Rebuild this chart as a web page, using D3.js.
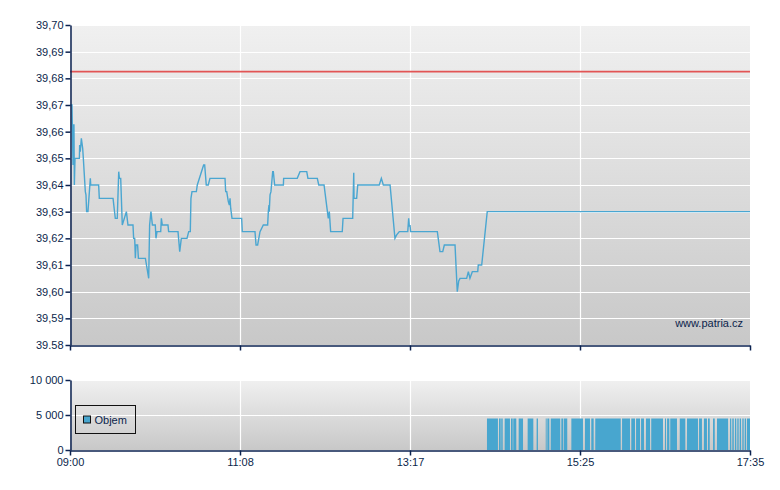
<!DOCTYPE html>
<html>
<head>
<meta charset="utf-8">
<script src="https://cdn.jsdelivr.net/npm/d3@7"></script>
<style>
  body { margin: 0; background: #fff; }
  text { font-family: "Liberation Sans", Arial, sans-serif; font-size: 11px; fill: #0b1f4b; }
</style>
</head>
<body>
<svg id="chart"></svg>
<script>
// price ticks, minutes after 09:00
let priceTimes = [0.3, 1.5, 2.3, 2.5, 3.0, 3.3, 3.8, 7.1, 7.3, 7.8, 8.6, 9.6, 10.1, 11.6, 12.1, 12.6, 13.6,
    15.4, 15.7, 21.7, 22.2, 32.6, 34.3, 35.8, 36.9, 37.4, 38.4, 39.6, 42.7, 43.9, 47.7, 48.2, 49.0, 49.5,
    50.0, 51.2, 51.8, 57.1, 59.6, 60.3, 61.3, 62.4, 64.6, 65.1, 65.9, 68.7, 69.2, 69.9, 74.2, 74.7, 81.8,
    83.1, 84.3, 88.6, 89.9, 91.1, 91.6, 92.4, 95.7, 96.4, 101.2, 102.0, 103.2, 104.7, 106.0, 117.4, 117.9,
    118.7, 119.9, 120.7, 121.2, 121.7, 122.7, 130.0, 130.5, 140.1, 140.9, 142.1, 143.9, 145.2, 146.4, 149.7,
    150.2, 150.7, 150.9, 151.5, 152.2, 153.5, 154.0, 155.0, 161.6, 161.8, 172.1, 174.2, 179.3, 180.2, 187.3,
    188.4, 192.4, 195.6, 196.4, 197.4, 206.2, 206.8, 214.1, 214.9, 215.1, 217.1, 217.9, 234.2, 235.8, 237.3,
    242.4, 246.1, 247.4, 249.4, 255.8, 256.5, 257.0, 257.5, 258.0, 278.2, 280.2, 282.3, 283.5, 291.6, 293.3,
    294.4, 295.4, 300.4, 301.7, 302.9, 304.7, 308.8, 309.2, 311.8, 316.0, 515];

let priceValues = [39.670, 39.670, 39.6475, 39.6625, 39.6625, 39.640, 39.650, 39.650, 39.655, 39.6525, 39.6575,
    39.6538, 39.650, 39.6375, 39.6363, 39.630, 39.630, 39.6425, 39.640, 39.640, 39.635, 39.635, 39.6275,
    39.6275, 39.645, 39.6425, 39.6425, 39.625, 39.630, 39.625, 39.625, 39.620, 39.620, 39.6125, 39.6175,
    39.6175, 39.6125, 39.6125, 39.605, 39.625, 39.630, 39.625, 39.625, 39.620, 39.6225, 39.6225, 39.6275,
    39.625, 39.625, 39.6225, 39.6225, 39.615, 39.620, 39.620, 39.6225, 39.6225, 39.635, 39.6375, 39.6375,
    39.640, 39.6475, 39.6475, 39.640, 39.640, 39.6425, 39.6425, 39.6375, 39.6375, 39.6338, 39.6325, 39.635,
    39.6313, 39.6275, 39.6275, 39.6225, 39.6225, 39.6175, 39.6175, 39.6225, 39.6238, 39.625, 39.625, 39.630,
    39.6325, 39.630, 39.6363, 39.6375, 39.645, 39.645, 39.640, 39.640, 39.6425, 39.6425, 39.645, 39.645,
    39.6425, 39.6425, 39.640, 39.640, 39.6275, 39.630, 39.6225, 39.6225, 39.6275, 39.6275, 39.6446, 39.635,
    39.635, 39.640, 39.640, 39.6425, 39.640, 39.640, 39.620, 39.6213, 39.6225, 39.6225, 39.6275, 39.6244,
    39.625, 39.6225, 39.6225, 39.615, 39.615, 39.6175, 39.6175, 39.600, 39.604, 39.605, 39.605, 39.6075,
    39.605, 39.6075, 39.6075, 39.610, 39.610, 39.630, 39.630];

let prevClose = 39.6825;

let priceTicks = [39.70, 39.69, 39.68, 39.67, 39.66, 39.65, 39.64, 39.63, 39.62, 39.61, 39.60, 39.59, 39.58];
let priceTickLabels = ["39,70", "39,69", "39,68", "39,67", "39,66", "39,65", "39,64", "39,63", "39,62",
    "39,61", "39,60", "39,59", "39.58"];

let timeTicks = [0, 128.75, 257.5, 386.25, 515];
let timeTickLabels = ["09:00", "11:08", "13:17", "15:25", "17:35"];

// volume blocks (minutes after 09:00)
let volStart = [315.8, 324.9, 326.6, 329.2, 334.0, 335.7, 339.8, 346.6, 353.4, 360.3, 361.5, 364.1, 372.1,
    374.1, 379.7, 390.0, 394.8, 397.8, 418.1, 425.1, 428.7, 432.5, 436.2, 440.2, 450.6, 452.2, 454.6, 461.8,
    467.3, 476.4, 480.1, 483.2, 487.0, 490.0, 499.9, 501.6, 503.6, 505.4, 507.2, 509.2, 511.0, 512.7];
let volEnd = [324.1, 326.2, 327.7, 333.2, 335.3, 338.0, 343.1, 350.9, 354.4, 361.0, 363.0, 371.3, 373.6,
    376.6, 388.5, 393.8, 396.6, 417.1, 424.1, 427.9, 431.7, 434.7, 439.3, 449.1, 451.4, 453.9, 459.7, 466.0,
    475.6, 478.6, 482.4, 484.5, 488.3, 498.4, 500.8, 502.7, 504.6, 506.4, 508.2, 510.2, 512.0, 515.0];
let volValue = [4500, 4500, 4500, 4500, 4500, 4500, 4500, 4500, 4500, 4500, 4500, 4500, 4500, 4500, 4500,
    4500, 4500, 4500, 4500, 4500, 4500, 4500, 4500, 4500, 4500, 4500, 4500, 4500, 4500, 4500, 4500, 4500,
    4500, 4500, 4500, 4500, 4500, 4500, 4500, 4500, 4500, 4500];

let volTicks = [0, 5000, 10000];
let volTickLabels = ["0", "5 000", "10 000"];

let width = 780,
    height = 490;

let axisColour = "#0b2250",
    lineColour = "#4aa6d1",
    barColour = "#48a6cf",
    redColour = "#e25555";

let svg = d3.select("#chart")
    .attr("width", width)
    .attr("height", height);

let defs = svg.append("defs");
let grad = defs.append("linearGradient")
    .attr("id", "bg")
    .attr("x1", 0).attr("y1", 0).attr("x2", 0).attr("y2", 1);
grad.append("stop").attr("offset", "0%").attr("stop-color", "#f0f0f0");
grad.append("stop").attr("offset", "100%").attr("stop-color", "#c8c8c8");

let x = d3.scaleLinear()
    .domain([0, 515])
    .range([70, 750]);

let y = d3.scaleLinear()
    .domain([39.58, 39.70])
    .range([345, 25]);

let yv = d3.scaleLinear()
    .domain([0, 10000])
    .range([450, 380]);

function panel(yScale, ticks, labels) {
    let top = yScale.range()[1], bottom = yScale.range()[0];
    let g = svg.append("g");

    g.append("rect")
        .attr("x", x.range()[0]).attr("y", top)
        .attr("width", x.range()[1] - x.range()[0])
        .attr("height", bottom - top)
        .attr("fill", "url(#bg)");

    g.selectAll(".hgrid")
        .data(ticks)
        .enter().append("line")
        .attr("x1", x.range()[0]).attr("x2", x.range()[1])
        .attr("y1", d => Math.round(yScale(d)) + 0.5)
        .attr("y2", d => Math.round(yScale(d)) + 0.5)
        .attr("stroke", "#fff").attr("stroke-width", 1.2);

    g.selectAll(".vgrid")
        .data(timeTicks.slice(1, -1))
        .enter().append("line")
        .attr("x1", d => Math.round(x(d)) + 0.5).attr("x2", d => Math.round(x(d)) + 0.5)
        .attr("y1", top).attr("y2", bottom)
        .attr("stroke", "#fff").attr("stroke-width", 1.2);

    return g;
}

function axes(yScale, ticks, labels, showTimeLabels) {
    let g = svg.append("g");

    let left = d3.axisLeft(yScale)
        .tickValues(ticks)
        .tickFormat((d, i) => labels[i])
        .tickSize(5)
        .tickSizeOuter(0);
    let ga = g.append("g")
        .attr("transform", "translate(" + (x.range()[0] + 0.5) + ",0)")
        .call(left);
    ga.selectAll("path, line").attr("stroke", axisColour).attr("stroke-width", 1.5);
    ga.selectAll("text").attr("fill", "#0b1f4b").style("font-size", "11px").attr("x", -7);
    ga.attr("font-family", null).attr("font-size", null);

    let bottom = d3.axisBottom(x)
        .tickValues(timeTicks)
        .tickFormat((d, i) => showTimeLabels ? timeTickLabels[i] : "")
        .tickSize(5)
        .tickSizeOuter(0);
    let gb = g.append("g")
        .attr("transform", "translate(0," + (yScale.range()[0] + 0.5) + ")")
        .call(bottom);
    gb.selectAll("path, line").attr("stroke", axisColour).attr("stroke-width", 1.5);
    gb.selectAll("text").attr("fill", "#0b1f4b").style("font-size", "11px").attr("y", 8);
    gb.attr("font-family", null).attr("font-size", null);
}

// price panel
panel(y, priceTicks, priceTickLabels);

svg.append("line")
    .attr("x1", x(0)).attr("x2", x(515))
    .attr("y1", y(prevClose)).attr("y2", y(prevClose))
    .attr("stroke", redColour).attr("stroke-width", 1.6);

let line = d3.line()
    .x((d, i) => x(priceTimes[i]))
    .y(d => y(d));

svg.append("path")
    .datum(priceValues)
    .attr("d", line)
    .attr("fill", "none")
    .attr("stroke", lineColour)
    .attr("stroke-width", 1.4);

svg.append("text")
    .attr("x", 743).attr("y", 327)
    .attr("text-anchor", "end")
    .text("www.patria.cz");

axes(y, priceTicks, priceTickLabels, false);

// volume panel
panel(yv, volTicks, volTickLabels);

svg.append("g").selectAll("rect")
    .data(volValue)
    .enter().append("rect")
    .attr("x", (d, i) => x(volStart[i]))
    .attr("width", (d, i) => x(volEnd[i]) - x(volStart[i]))
    .attr("y", d => yv(d))
    .attr("height", d => yv(0) - yv(d))
    .attr("fill", barColour);

axes(yv, volTicks, volTickLabels, true);

// legend
let legend = svg.append("g").attr("transform", "translate(75.5,405.5)");
legend.append("rect")
    .attr("width", 60).attr("height", 28)
    .attr("fill", "none").attr("stroke", "#111").attr("stroke-width", 1);
legend.append("rect")
    .attr("x", 8).attr("y", 10.5)
    .attr("width", 7).attr("height", 7)
    .attr("fill", barColour).attr("stroke", "#111").attr("stroke-width", 1);
legend.append("text")
    .attr("x", 19).attr("y", 18)
    .text("Objem");
</script>
</body>
</html>
